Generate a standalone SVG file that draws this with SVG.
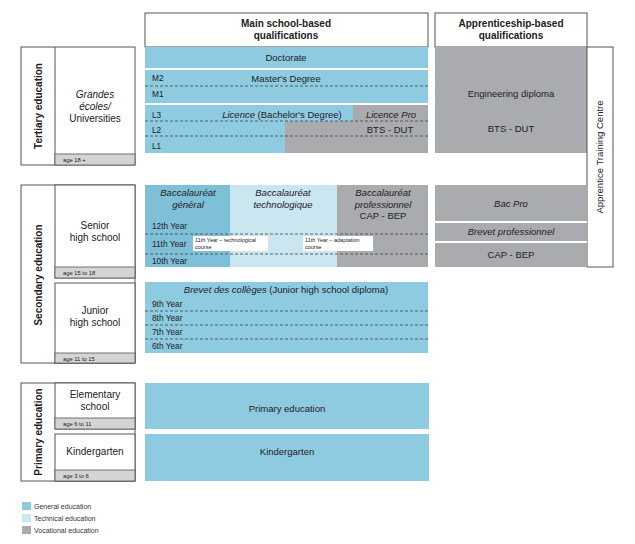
<svg xmlns="http://www.w3.org/2000/svg" width="635" height="544" viewBox="0 0 635 544">
<defs>
<style>
text{font-family:"Liberation Sans",Arial,sans-serif;fill:#222;}
.gen{fill:#8ecae0;}
.gen2{fill:#7fc0d9;}
.tech{fill:#c9e6f1;}
.voc{fill:#a9abae;}
.age{fill:#d2d4d6;stroke:#555;stroke-width:0.8;}
.box{fill:#fff;stroke:#555;stroke-width:1;}
.dash{stroke:#444;stroke-width:0.8;stroke-dasharray:3 2;fill:none;}
.wl{stroke:#fff;stroke-width:2;}
.h{font-size:10px;font-weight:bold;text-anchor:middle;}
.c{font-size:9.5px;text-anchor:middle;}
.ci{font-size:9.5px;text-anchor:middle;font-style:italic;}
.l{font-size:10px;text-anchor:middle;}
.li{font-size:10px;text-anchor:middle;font-style:italic;}
.r{font-size:8.3px;}
.a{font-size:5.8px;}
.s{font-size:5.5px;}
.v{font-size:10px;font-weight:bold;text-anchor:middle;}
.lg{font-size:7px;fill:#333;}
</style>
</defs>
<rect width="635" height="544" fill="#fff"/>

<g id="headers">
<rect class="box" x="145" y="13" width="283" height="34"/>
<text class="h" x="286" y="27">Main school-based</text>
<text class="h" x="286" y="39">qualifications</text>
<rect class="box" x="435" y="13" width="152" height="34"/>
<text class="h" x="511" y="27">Apprenticeship-based</text>
<text class="h" x="511" y="39">qualifications</text>
</g>

<g id="tertiary-label">
<rect class="box" x="21" y="47" width="114" height="118"/>
<line x1="55" y1="47" x2="55" y2="165" stroke="#555" stroke-width="1"/>
<rect class="age" x="55" y="154" width="80" height="11"/>
<text class="v" transform="translate(42,106) rotate(-90)">Tertiary education</text>
<text class="li" x="95" y="98">Grandes</text>
<text class="li" x="95" y="110">écoles/</text>
<text class="l" x="95" y="122">Universities</text>
<text class="a" x="63" y="162">age 18 +</text>
</g>

<g id="tertiary-main">
<rect class="gen" x="145" y="47" width="283" height="21"/>
<text class="c" x="286" y="61">Doctorate</text>
<rect class="gen" x="145" y="70" width="283" height="33"/>
<line class="dash" x1="145" y1="86" x2="428" y2="86"/>
<text class="r" x="152" y="81">M2</text>
<text class="r" x="152" y="97">M1</text>
<text class="c" x="286" y="82">Master's Degree</text>
<rect class="gen" x="145" y="105" width="283" height="48"/>
<rect class="voc" x="353" y="105" width="75" height="16"/>
<rect class="voc" x="285" y="121" width="143" height="32"/>
<line class="dash" x1="145" y1="121" x2="428" y2="121"/>
<line class="dash" x1="145" y1="136" x2="428" y2="136"/>
<text class="r" x="152" y="118">L3</text>
<text class="r" x="152" y="133">L2</text>
<text class="r" x="152" y="149">L1</text>
<text class="c" x="282" y="118"><tspan font-style="italic">Licence</tspan> (Bachelor's Degree)</text>
<text class="ci" x="391" y="118">Licence Pro</text>
<text class="c" x="390" y="133">BTS - DUT</text>
</g>

<g id="tertiary-apprentice">
<rect class="voc" x="435" y="47" width="152" height="106"/>
<text class="c" x="511" y="97">Engineering diploma</text>
<text class="c" x="511" y="132">BTS - DUT</text>
</g>

<g id="apprentice-centre">
<rect class="box" x="587" y="47" width="26" height="220"/>
<text class="c" transform="translate(603,157) rotate(-90)">Apprentice Training Centre</text>
</g>

<g id="secondary-label">
<rect class="box" x="21" y="185" width="114" height="178"/>
<rect class="box" x="55" y="185" width="80" height="93"/>
<rect class="age" x="55" y="267" width="80" height="11"/>
<rect class="box" x="55" y="283" width="80" height="80"/>
<rect class="age" x="55" y="353" width="80" height="10"/>
<text class="v" transform="translate(42,275) rotate(-90)">Secondary education</text>
<text class="l" x="95" y="229">Senior</text>
<text class="l" x="95" y="241">high school</text>
<text class="a" x="63" y="275">age 15 to 18</text>
<text class="l" x="95" y="314">Junior</text>
<text class="l" x="95" y="326">high school</text>
<text class="a" x="63" y="361">age 11 to 15</text>
</g>

<g id="senior-main">
<rect class="gen2" x="145" y="185" width="85" height="82"/>
<rect class="tech" x="230" y="185" width="107" height="82"/>
<rect class="voc" x="337" y="185" width="91" height="82"/>
<line class="dash" x1="145" y1="234" x2="428" y2="234"/>
<line class="dash" x1="145" y1="254" x2="428" y2="254"/>
<text class="ci" x="188" y="196">Baccalauréat</text>
<text class="ci" x="188" y="208">général</text>
<text class="ci" x="283" y="196">Baccalauréat</text>
<text class="ci" x="283" y="208">technologique</text>
<text class="ci" x="383" y="196">Baccalauréat</text>
<text class="ci" x="383" y="208">professionnel</text>
<text class="c" x="383" y="219">CAP - BEP</text>
<text class="r" x="152" y="229">12th Year</text>
<text class="r" x="152" y="247">11th Year</text>
<text class="r" x="152" y="264">10th Year</text>
<rect x="193" y="236" width="75" height="15" fill="#fff"/>
<text class="s" x="195" y="242">11th Year – technological</text>
<text class="s" x="195" y="249">course</text>
<rect x="303" y="236" width="70" height="15" fill="#fff"/>
<text class="s" x="305" y="242">11th Year – adaptation</text>
<text class="s" x="305" y="249">course</text>
</g>

<g id="senior-apprentice">
<rect class="voc" x="435" y="185" width="152" height="82"/>
<line class="wl" x1="435" y1="222" x2="587" y2="222"/>
<line class="wl" x1="435" y1="242" x2="587" y2="242"/>
<text class="ci" x="511" y="207">Bac Pro</text>
<text class="ci" x="511" y="235">Brevet professionnel</text>
<text class="c" x="511" y="258">CAP - BEP</text>
</g>

<g id="junior-main">
<rect class="gen" x="145" y="282" width="283" height="71"/>
<line class="dash" x1="145" y1="311" x2="428" y2="311"/>
<line class="dash" x1="145" y1="325" x2="428" y2="325"/>
<line class="dash" x1="145" y1="339" x2="428" y2="339"/>
<text class="c" x="286" y="293"><tspan font-style="italic">Brevet des collèges</tspan> (Junior high school diploma)</text>
<text class="r" x="152" y="307">9th Year</text>
<text class="r" x="152" y="321">8th Year</text>
<text class="r" x="152" y="335">7th Year</text>
<text class="r" x="152" y="349">6th Year</text>
</g>

<g id="primary-label">
<rect class="box" x="21" y="383" width="114" height="98"/>
<rect class="box" x="55" y="383" width="80" height="46"/>
<rect class="age" x="55" y="418" width="80" height="11"/>
<rect class="box" x="55" y="434" width="80" height="47"/>
<rect class="age" x="55" y="470" width="80" height="11"/>
<text class="v" transform="translate(42,432) rotate(-90)">Primary education</text>
<text class="l" x="95" y="398">Elementary</text>
<text class="l" x="95" y="410">school</text>
<text class="a" x="63" y="426">age 6 to 11</text>
<text class="l" x="95" y="455">Kindergarten</text>
<text class="a" x="63" y="478">age 3 to 6</text>
</g>

<g id="primary-main">
<rect class="gen" x="145" y="383" width="284" height="46"/>
<text class="c" x="287" y="412">Primary education</text>
<rect class="gen" x="145" y="434" width="284" height="47"/>
<text class="c" x="287" y="455">Kindergarten</text>
</g>

<g id="legend">
<rect class="gen" x="22" y="502" width="9" height="8"/>
<text class="lg" x="34" y="509">General education</text>
<rect class="tech" x="22" y="514" width="9" height="8"/>
<text class="lg" x="34" y="521">Technical education</text>
<rect class="voc" x="22" y="526" width="9" height="8"/>
<text class="lg" x="34" y="533">Vocational education</text>
</g>

<g id="connectors"/>
</svg>
